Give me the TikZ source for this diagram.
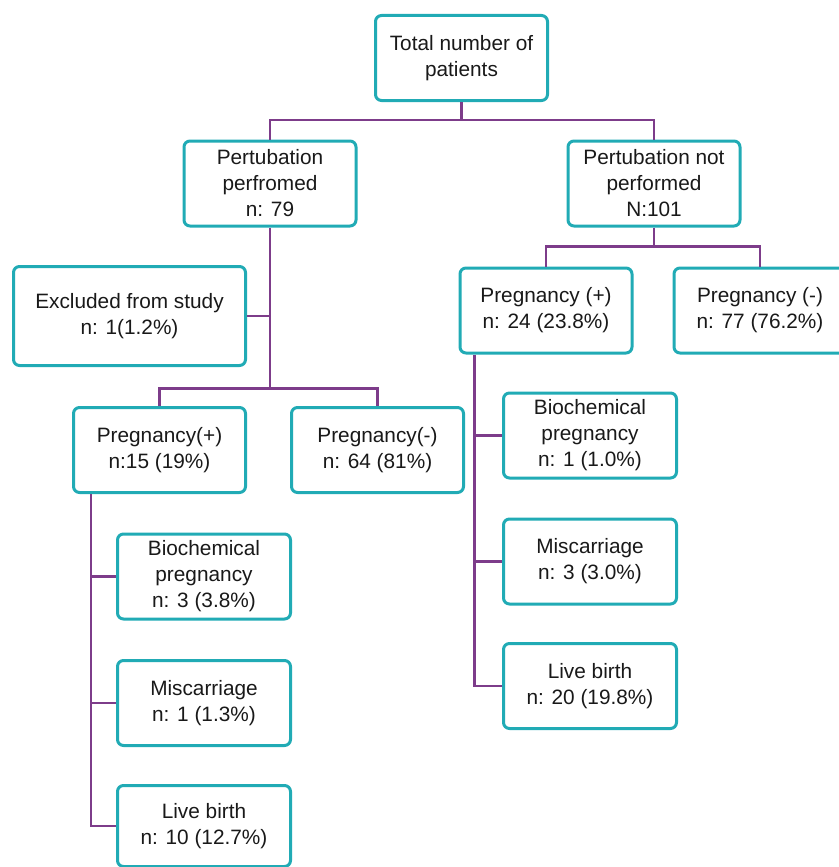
\documentclass[tikz,border=0pt]{standalone}
\usepackage{fontspec}
\setmainfont{Liberation Sans}
\definecolor{boxteal}{RGB}{33,171,181}
\definecolor{linepurple}{RGB}{125,60,138}
\begin{document}
\begin{tikzpicture}[x=1pt,y=-1pt,
  box/.style={draw=boxteal, line width=3pt, rounded corners=6pt, fill=white,
    align=center, inner sep=2pt, font=\fontsize{20.8}{26}\selectfont,
    text=black!90, minimum width=172pt, minimum height=85pt},
  link/.style={draw=linepurple, line width=2.8pt}]
\useasboundingbox (0,0) rectangle (838,867);

\node[box] (total) at (461.5,58) {Total number of\\patients};
\node[box] (pp) at (270,183.5) {Pertubation\\perfromed\\n: 79};
\node[box] (pnp) at (654,183.5) {Pertubation not\\performed\\N:101};
\node[box, minimum width=232pt, minimum height=99pt] (excl) at (129.5,316) {Excluded from study\\n: 1(1.2\%)};
\node[box] (lpos) at (159.5,450) {Pregnancy(+)\\n:15 (19\%)};
\node[box] (lneg) at (377.5,450) {Pregnancy(-)\\n: 64 (81\%)};
\node[box] (rpos) at (546,310.5) {Pregnancy (+)\\n: 24 (23.8\%)};
\node[box] (rneg) at (760,310.5) {Pregnancy (-)\\n: 77 (76.2\%)};
\node[box, minimum width=173pt] (lbio) at (204,576.5) {Biochemical\\pregnancy\\n: 3 (3.8\%)};
\node[box, minimum width=173pt] (lmis) at (204,703) {Miscarriage\\n: 1 (1.3\%)};
\node[box, minimum width=173pt, minimum height=81pt] (llive) at (204,826) {Live birth\\n: 10 (12.7\%)};
\node[box, minimum width=173pt] (rbio) at (590,435.5) {Biochemical\\pregnancy\\n: 1 (1.0\%)};
\node[box, minimum width=173pt] (rmis) at (590,561.5) {Miscarriage\\n: 3 (3.0\%)};
\node[box, minimum width=173pt] (rlive) at (590,686) {Live birth\\n: 20 (19.8\%)};

% top level
\draw[link] (total.south) -- ++(0,18) coordinate (tj);
\draw[link] (pp.north) |- (tj) -| (pnp.north);

% left branch
\draw[link] (pp.south) -- ++(0,161) coordinate (lj);
\draw[link] (excl.east) -- (excl.east -| pp.south);
\draw[link] (lpos.north) |- (lj) -| (lneg.north);

% right branch
\draw[link] (pnp.south) -- ++(0,19) coordinate (rj);
\draw[link] (rpos.north) |- (rj) -| (rneg.north);

% left pregnancy outcomes
\coordinate (lt) at ([xshift=19pt]lpos.south west);
\draw[link] (lt) |- (llive.west);
\draw[link] (lbio.west -| lt) -- (lbio.west);
\draw[link] (lmis.west -| lt) -- (lmis.west);

% right pregnancy outcomes
\coordinate (rt) at ([xshift=16pt]rpos.south west);
\draw[link] (rt) |- (rlive.west);
\draw[link] (rbio.west -| rt) -- (rbio.west);
\draw[link] (rmis.west -| rt) -- (rmis.west);
\end{tikzpicture}
\end{document}
